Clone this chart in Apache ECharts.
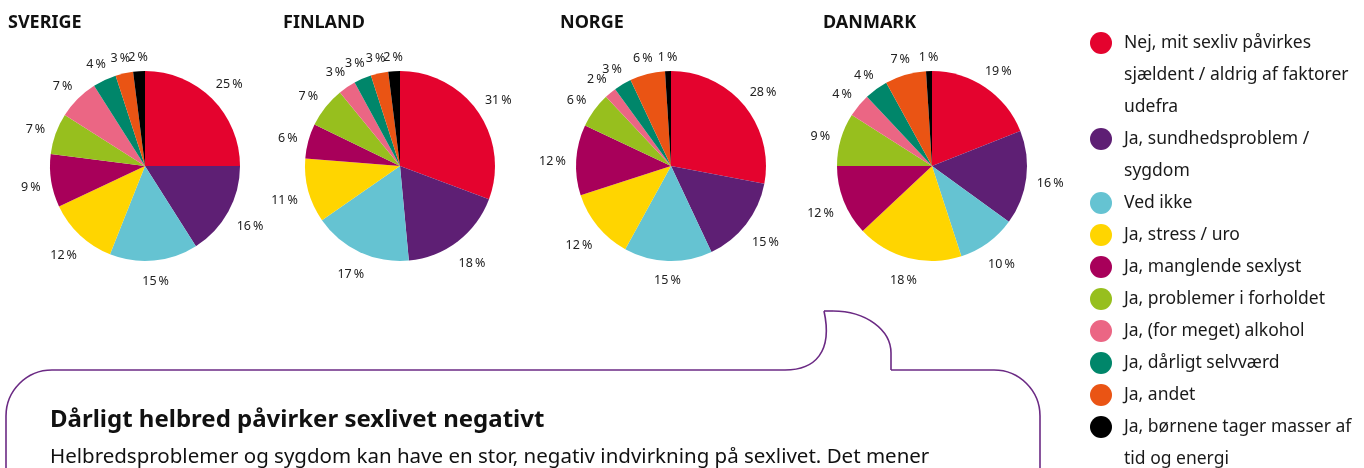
<!DOCTYPE html>
<html>
<head>
<meta charset="utf-8">
<script src="https://cdn.jsdelivr.net/npm/echarts@6/dist/echarts.min.js"></script>
<style>
html,body{margin:0;padding:0;background:#fff;}
#chart{width:1364px;height:468px;}
</style>
</head>
<body>
<div id="chart"></div>
<script>
// ---- data ----
const categories = [
  'Nej, mit sexliv påvirkes sjældent / aldrig af faktorer udefra',
  'Ja, sundhedsproblem / sygdom',
  'Ved ikke',
  'Ja, stress / uro',
  'Ja, manglende sexlyst',
  'Ja, problemer i forholdet',
  'Ja, (for meget) alkohol',
  'Ja, dårligt selvværd',
  'Ja, andet',
  'Ja, børnene tager masser af tid og energi'
];
const legendLabels = [
  'Nej, mit sexliv påvirkes\nsjældent / aldrig af faktorer\nudefra',
  'Ja, sundhedsproblem /\nsygdom',
  'Ved ikke',
  'Ja, stress / uro',
  'Ja, manglende sexlyst',
  'Ja, problemer i forholdet',
  'Ja, (for meget) alkohol',
  'Ja, dårligt selvværd',
  'Ja, andet',
  'Ja, børnene tager masser af\ntid og energi'
];
const countries = ['SVERIGE', 'FINLAND', 'NORGE', 'DANMARK'];
const sverige = [25, 16, 15, 12, 9, 7, 7, 4, 3, 2];
const finland = [31, 18, 17, 11, 6, 7, 3, 3, 3, 2];
const norge   = [28, 15, 15, 12, 12, 6, 2, 3, 6, 1];
const danmark = [19, 16, 10, 18, 12, 9, 4, 4, 7, 1];
const headline = 'Dårligt helbred påvirker sexlivet negativt';
const bodyText = 'Helbredsproblemer og sygdom kan have en stor, negativ indvirkning på sexlivet. Det mener';

// ---- styling ----
const colors = ['#E4032E', '#5E1F74', '#65C3D2', '#FFD500', '#A8005A', '#97BF1E', '#EB6684', '#00866A', '#EA5414', '#000000'];
const FONT = 'Noto Sans';
const seriesValues = [sverige, finland, norge, danmark];
const pieCentersX = [145, 400, 671, 932];
const titleLefts = [8, 283, 560, 823];
const LABEL_GAP = 10;

const chart = echarts.init(document.getElementById('chart'), null, {renderer: 'canvas'});

const series = seriesValues.map((vals, s) => ({
  type: 'pie',
  name: countries[s],
  center: [pieCentersX[s], 166],
  radius: 95,
  startAngle: 90,
  clockwise: true,
  avoidLabelOverlap: false,
  animation: false,
  emphasis: {scale: false},
  itemStyle: {borderWidth: 0},
  label: {
    show: true,
    position: 'outside',
    formatter: '{c}\u2009%',
    fontFamily: FONT,
    fontSize: 12.5,
    color: '#222'
  },
  labelLine: {show: true, length: 10, length2: 0, lineStyle: {opacity: 0, width: 0}},
  // centre each label just outside its slice: edge point + gap + half the label box along the slice direction
  labelLayout: function (p) {
    const pts = p.labelLinePoints;
    if (!pts) return {};
    let dx = pts[1][0] - pts[0][0], dy = pts[1][1] - pts[0][1];
    const len = Math.sqrt(dx * dx + dy * dy) || 1;
    dx /= len; dy /= len;
    const half = Math.abs(dx) * p.labelRect.width / 2 + Math.abs(dy) * p.labelRect.height / 2;
    const d = LABEL_GAP + half;
    return {x: pts[0][0] + dx * d, y: pts[0][1] + dy * d + 3, align: 'center', verticalAlign: 'middle'};
  },
  data: categories.map((name, i) => ({name: name, value: vals[i], itemStyle: {color: colors[i]}}))
}));

// legend: one component per entry; leading blank lines keep wrapped labels
// aligned with the icon on their first line
const LINE_H = 32;
let cy = 43;
const legends = categories.map((name, i) => {
  const n = legendLabels[i].split('\n').length;
  const cfg = {
    data: [name],
    orient: 'vertical',
    left: 1090,
    top: cy - (2 * n - 1) * LINE_H / 2,
    padding: 0,
    itemWidth: 36,
    itemHeight: 22,
    icon: 'circle',
    selectedMode: false,
    formatter: () => '\n'.repeat(n - 1) + legendLabels[i],
    textStyle: {fontFamily: FONT, fontSize: 17.5, lineHeight: LINE_H, color: '#1a1a1a'}
  };
  cy += n * LINE_H;
  return cfg;
});

const titles = countries.map((c, i) => ({
  text: c, left: titleLefts[i], top: 14, padding: 0,
  textStyle: {fontFamily: FONT, fontSize: 18, fontWeight: 'bold', color: '#111'}
}));
titles.push({text: headline, left: 50, top: 408, padding: 0,
  textStyle: {fontFamily: FONT, fontSize: 24, fontWeight: 'bold', color: '#111'}});
titles.push({text: bodyText, left: 50, top: 447, padding: 0,
  textStyle: {fontFamily: FONT, fontSize: 20.5, fontWeight: 'normal', color: '#111'}});

// speech-bubble outline (decoration)
const bubbleStyle = {stroke: '#6B2A84', lineWidth: 1.6, fill: 'none'};
const seg = (type, shape) => ({type: type, silent: true, shape: shape, style: bubbleStyle});
const bubble = [
  seg('line', {x1: 6, y1: 470, x2: 6, y2: 416}),
  seg('bezierCurve', {x1: 6, y1: 416, cpx1: 6, cpy1: 390.6, cpx2: 26.6, cpy2: 370, x2: 52, y2: 370}),
  seg('line', {x1: 52, y1: 370, x2: 785, y2: 370}),
  seg('bezierCurve', {x1: 785, y1: 370, cpx1: 815, cpy1: 370, cpx2: 833, cpy2: 352, x2: 824, y2: 311}),
  seg('line', {x1: 824, y1: 311, x2: 833, y2: 311}),
  seg('bezierCurve', {x1: 833, y1: 311, cpx1: 866, cpy1: 311, cpx2: 891, cpy2: 330, x2: 891, y2: 353}),
  seg('line', {x1: 891, y1: 353, x2: 891, y2: 370}),
  seg('line', {x1: 891, y1: 370, x2: 994, y2: 370}),
  seg('bezierCurve', {x1: 994, y1: 370, cpx1: 1019.4, cpy1: 370, cpx2: 1040, cpy2: 390.6, x2: 1040, y2: 416}),
  seg('line', {x1: 1040, y1: 416, x2: 1040, y2: 470})
];

chart.setOption({
  animation: false,
  color: colors,
  title: titles,
  legend: legends,
  series: series,
  graphic: bubble
});
</script>
</body>
</html>
